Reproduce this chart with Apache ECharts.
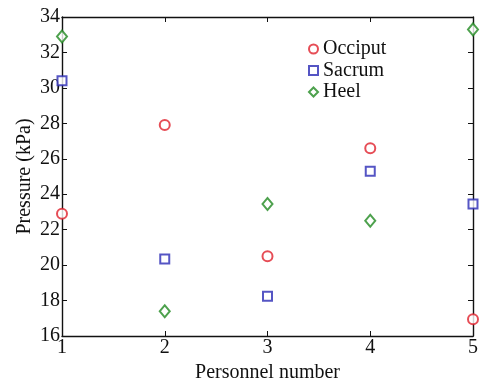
<!DOCTYPE html>
<html>
<head>
<meta charset="utf-8">
<script src="https://cdn.jsdelivr.net/npm/echarts@6/dist/echarts.min.js"></script>
<style>
  html, body { margin: 0; padding: 0; background: #fff; }
  #chart { width: 480px; height: 378px; }
</style>
</head>
<body>
<div id="chart"></div>
<script>
// values
var personnel = [1, 2, 3, 4, 5];
var occiput = [22.9, 27.9, 20.5, 26.6, 16.95];
var sacrum = [30.4, 20.35, 18.25, 25.3, 23.45];
var heel = [32.9, 17.4, 23.45, 22.5, 33.3];
var yTicks = [16, 18, 20, 22, 24, 26, 28, 30, 32, 34];

function pairs(ys) {
  return personnel.map(function (x, i) {
    return [x, ys[i]];
  });
}

var serif = "Liberation Serif";
var axisLine = { show: true, lineStyle: { color: "#111", width: 1.4 } };
var tick = { show: true, inside: true, length: 5, lineStyle: { color: "#111" } };

var myChart = echarts.init(document.getElementById("chart"));
var option = {
  animation: false,
  grid: { left: 62, right: 7, top: 17, bottom: 42, outerBoundsMode: "none", containLabel: false },
  legend: {
    orient: "vertical",
    left: 303,
    top: 34,
    itemGap: 1.5,
    itemWidth: 9,
    itemHeight: 9,
    textStyle: { fontFamily: serif, fontSize: 20, lineHeight: 20, color: "#111" },
    data: ["Occiput", "Sacrum", "Heel"],
  },
  xAxis: [
    {
      type: "value",
      min: 1,
      max: 5,
      interval: 1,
      name: "Personnel number",
      nameLocation: "middle",
      nameGap: 24,
      nameTextStyle: { fontFamily: serif, fontSize: 20, color: "#111" },
      axisLine: axisLine,
      axisTick: tick,
      axisLabel: { fontFamily: serif, fontSize: 20, color: "#111", margin: 2 },
      splitLine: { show: false },
    },
    {
      type: "value",
      position: "top",
      min: 1,
      max: 5,
      interval: 1,
      axisLine: axisLine,
      axisTick: tick,
      axisLabel: { show: false },
      splitLine: { show: false },
    },
  ],
  yAxis: [
    {
      type: "value",
      min: yTicks[0],
      max: yTicks[yTicks.length - 1],
      interval: 2,
      name: "Pressure (kPa)",
      nameLocation: "middle",
      nameGap: 27,
      nameMoveOverlap: false,
      nameTextStyle: { fontFamily: serif, fontSize: 20, color: "#111" },
      axisLine: axisLine,
      axisTick: tick,
      axisLabel: { fontFamily: serif, fontSize: 20, color: "#111", margin: 2 },
      splitLine: { show: false },
    },
    {
      type: "value",
      position: "right",
      min: yTicks[0],
      max: yTicks[yTicks.length - 1],
      interval: 2,
      axisLine: axisLine,
      axisTick: tick,
      axisLabel: { show: false },
      splitLine: { show: false },
    },
  ],
  series: [
    {
      name: "Occiput",
      type: "scatter",
      symbol: "emptyCircle",
      symbolSize: 10,
      color: "#e0202c",
      itemStyle: { borderWidth: 1.6 },
      data: pairs(occiput),
    },
    {
      name: "Sacrum",
      type: "scatter",
      symbol: "emptyRect",
      symbolSize: 9,
      color: "#2b2bb5",
      itemStyle: { borderWidth: 1.6 },
      data: pairs(sacrum),
    },
    {
      name: "Heel",
      type: "scatter",
      symbol: "emptyDiamond",
      symbolSize: [10, 12],
      color: "#218a21",
      itemStyle: { borderWidth: 1.6 },
      data: pairs(heel),
    },
  ],
};
myChart.setOption(option);
</script>
</body>
</html>
